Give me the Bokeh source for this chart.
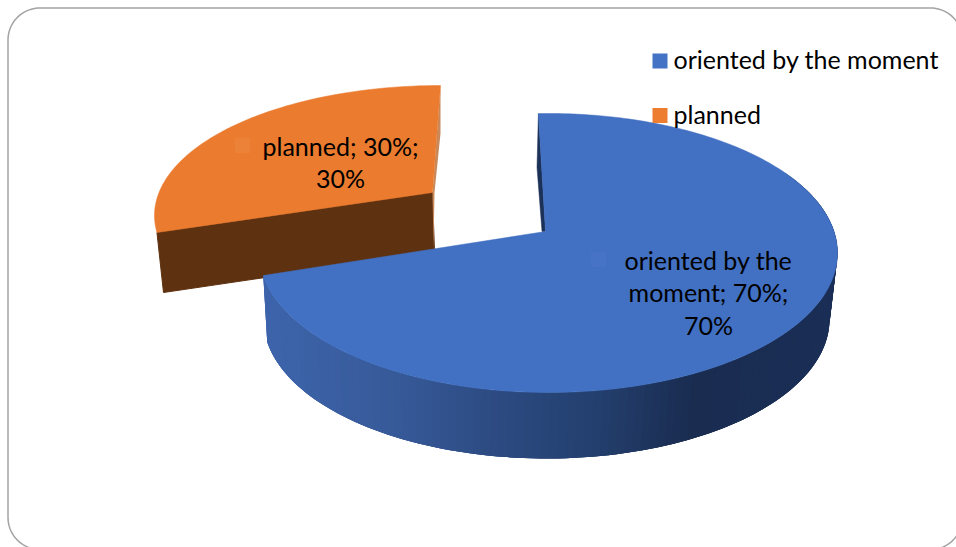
import numpy as np
from bokeh.plotting import figure
from bokeh.models import Range1d
from bokeh.core.properties import value
from bokeh.embed import file_html
from bokeh.resources import INLINE

# ---- data ----
categories = ["oriented by the moment", "planned"]
shares = [70, 30]
slice_colors = ["#4270C2", "#EB7B2E"]
legend_colors = ["#4472C4", "#ED7D31"]
label_lines = [["oriented by the", "moment; 70%;", "70%"], ["planned; 30%;", "30%"]]

FONT = "Lato"
p = figure(width=956, height=547, output_backend="svg", toolbar_location=None,
           x_range=Range1d(0, 956), y_range=Range1d(547, 0),
           x_axis_location=None, y_axis_location=None, min_border=0,
           outline_line_color=None, background_fill_color="white")
p.grid.visible = False

# frame: rounded rectangle, running past the page edges
L, T, R, B, r = 7.5, 7.5, 962, 549, 32
a = np.linspace(0, np.pi / 2, 24)
fx = np.concatenate([L + r - r * np.cos(a), R - r + r * np.sin(a), R - r + r * np.cos(a), L + r - r * np.sin(a), [L]])
fy = np.concatenate([T + r - r * np.sin(a), T + r - r * np.cos(a), B - r + r * np.sin(a), B - r + r * np.cos(a), [T + r]])
p.line(fx, fy, line_color="#A3A3A3", line_width=1.5)

sweeps = [s / sum(shares) * 360 for s in shares]

def ell(t, cx, cy, a_, b_):
    rad = np.radians(t)
    return cx + a_ * np.sin(rad), cy - b_ * np.cos(rad)

# --- planned slice (pulled out, behind) ---
o_start = 360.0
o_t = np.linspace(o_start - sweeps[1] * 0.903, o_start, 70)
ox, oy = ell(o_t, 440, 215, 286, 130)
apex_o = (432, 192)
# front wall
p.patch([ox[0], apex_o[0], 434, 163], [oy[0], apex_o[1], 252, 292], fill_color="#5E3110", line_color="#5E3110")
# right wall sliver
p.patch([ox[-1], 440, 434, 433, apex_o[0]], [oy[-1], 133, 192, 249, apex_o[1]], fill_color="#C9895A", line_color=None)
# top
p.patch(list(ox) + [apex_o[0]], list(oy) + [apex_o[1]], fill_color=slice_colors[1], line_color=slice_colors[1], line_width=0.5)

# --- oriented slice ---
b_start = -2.0
b_end = b_start + sweeps[0] * 1.0425
side_t = np.linspace(55, b_end, 120)
tx, ty = ell(side_t, 548, 252.5, 289, 139.5)
bx, by = ell(side_t, 546, 319, 283, 139)
stops_x = [262, 400, 500, 600, 700, 840]
stops_c = np.array([[0x3E, 0x65, 0xAC], [0x37, 0x5A, 0x99], [0x2D, 0x4B, 0x82], [0x24, 0x40, 0x6F], [0x1A, 0x2C, 0x50], [0x1B, 0x2F, 0x57]])
xs, ys, cs = [], [], []
n = len(side_t)
for i in range(n - 1):
    j = min(i + 3, n - 1)  # each band overlaps the next, which hides seams
    xs.append([tx[i]] + list(tx[i + 1:j + 1]) + list(bx[i + 1:j + 1][::-1]) + [bx[i]])
    ys.append([ty[i]] + list(ty[i + 1:j + 1]) + list(by[i + 1:j + 1][::-1]) + [by[i]])
    c = [int(np.interp(tx[i], stops_x, stops_c[:, k])) for k in range(3)]
    cs.append("#%02x%02x%02x" % tuple(c))
p.patches(xs, ys, fill_color=cs, line_color=None)

apex_b = (545, 231)
bt = np.linspace(b_start, b_end, 260)
ux, uy = ell(bt, 548, 252.5, 289, 139.5)
# inner wall sliver next to the centre
p.patch([ux[0], 536.5, 541.5, apex_b[0]], [uy[0], 167, 231, apex_b[1]], fill_color="#1C3158", line_color="#1C3158", line_width=0.5)
p.patch(list(ux) + [apex_b[0]], list(uy) + [apex_b[1]], fill_color=slice_colors[0], line_color=slice_colors[0], line_width=0.5)

# faint leader keys beside the data labels
p.scatter([598], [259], marker="square", size=15, fill_color="#4673C5", line_color=None)
p.scatter([242], [145], marker="square", size=15, fill_color="#EC8238", line_color=None)

# data labels
label_x = [708, 340]
label_y = [259, 145]
for lines, x0, y0 in zip(label_lines, label_x, label_y):
    p.text([x0] * len(lines), [y0 + 32.5 * i for i in range(len(lines))], text=lines,
           text_font=value(FONT), text_font_size="25px", text_color="#000000",
           text_align="center", text_baseline="middle")

# legend
leg_y = [60.5, 115]
p.scatter([659.5, 659.5], leg_y, marker="square", size=15, fill_color=legend_colors, line_color=None)
p.text([673, 673], [58, 113], text=categories, text_font=value(FONT), text_font_size="25px",
       text_color="#000000", text_align="left", text_baseline="middle")

open("out.html", "w").write(file_html(p, INLINE))
